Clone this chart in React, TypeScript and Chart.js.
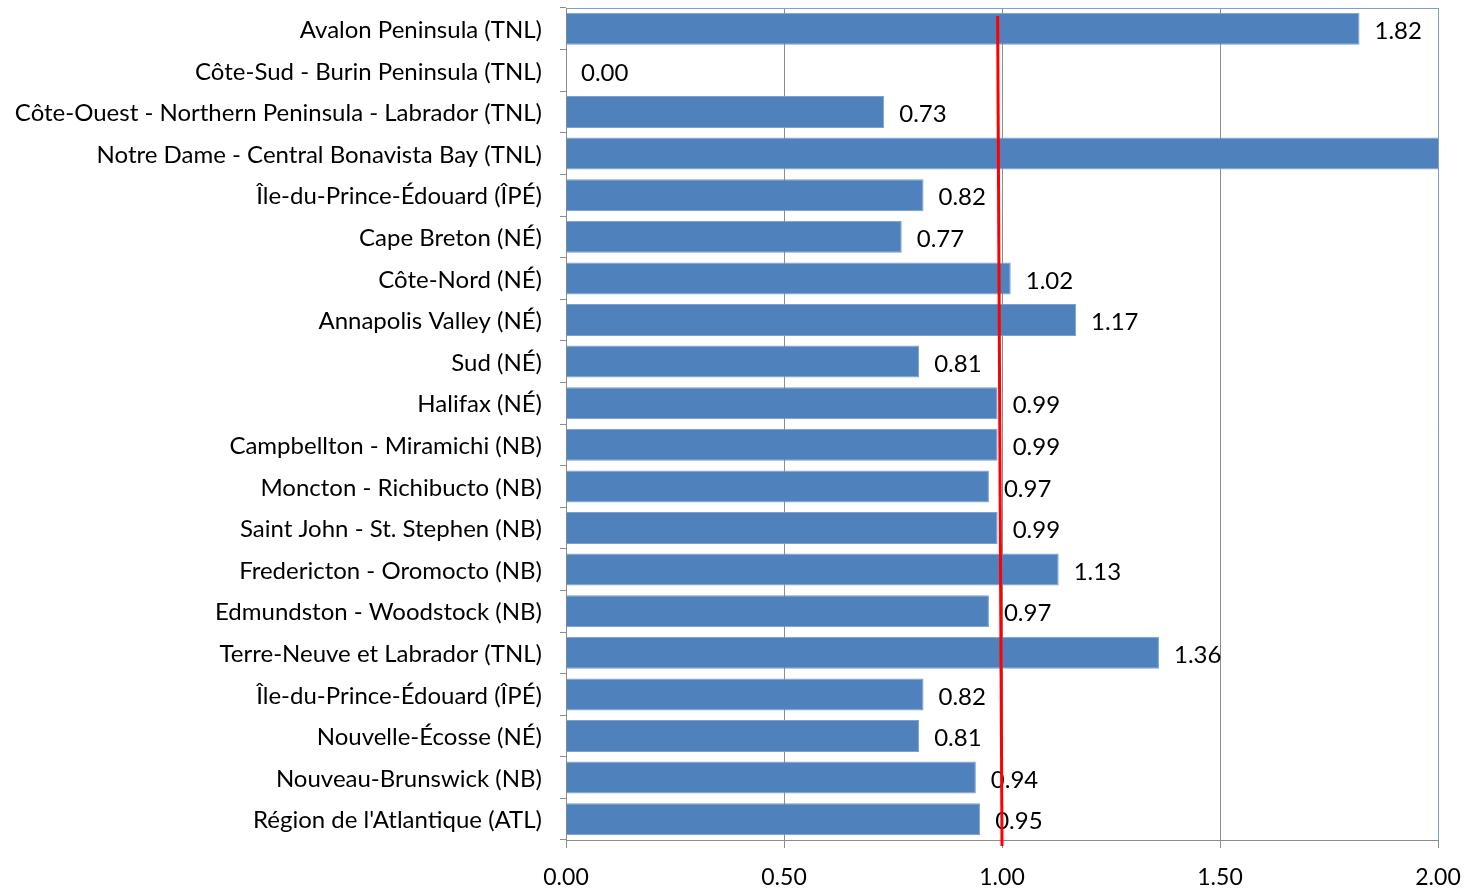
import React, { useEffect, useRef } from "react";
import { Chart, registerables } from "chart.js";

Chart.register(...registerables);

const categories = [
  "Avalon Peninsula (TNL)",
  "Côte-Sud - Burin Peninsula (TNL)",
  "Côte-Ouest - Northern Peninsula - Labrador (TNL)",
  "Notre Dame - Central Bonavista Bay (TNL)",
  "Île-du-Prince-Édouard (ÎPÉ)",
  "Cape Breton (NÉ)",
  "Côte-Nord (NÉ)",
  "Annapolis Valley (NÉ)",
  "Sud (NÉ)",
  "Halifax (NÉ)",
  "Campbellton - Miramichi (NB)",
  "Moncton - Richibucto (NB)",
  "Saint John - St. Stephen (NB)",
  "Fredericton - Oromocto (NB)",
  "Edmundston - Woodstock (NB)",
  "Terre-Neuve et Labrador (TNL)",
  "Île-du-Prince-Édouard (ÎPÉ)",
  "Nouvelle-Écosse (NÉ)",
  "Nouveau-Brunswick (NB)",
  "Région de l'Atlantique (ATL)",
];

const values = [
  1.82, 0.0, 0.73, 2.5, 0.82, 0.77, 1.02, 1.17, 0.81, 0.99, 0.99, 0.97, 0.99,
  1.13, 0.97, 1.36, 0.82, 0.81, 0.94, 0.95,
];

const xTicks = [0, 0.5, 1.0, 1.5, 2.0];
const refLineTop = 0.99;
const refLineBottom = 1.0;

const FONT = "Lato";

const labelPlugin = {
  id: "barLabels",
  afterDatasetsDraw(chart: any) {
    const ctx = chart.ctx;
    const meta = chart.getDatasetMeta(0);
    const area = chart.chartArea;
    ctx.save();
    ctx.font = `24px ${FONT}`;
    ctx.fillStyle = "#000";
    ctx.textAlign = "left";
    ctx.textBaseline = "middle";
    meta.data.forEach((bar: any, i: number) => {
      const x = bar.x + 15;
      if (x > area.right) return;
      ctx.fillText(values[i].toFixed(2), x, bar.y + 2.5);
    });
    ctx.restore();
  },
};

const framePlugin = {
  id: "frameAndRef",
  afterDraw(chart: any) {
    const ctx = chart.ctx;
    const area = chart.chartArea;
    const xs = chart.scales.x;
    ctx.save();
    ctx.strokeStyle = "#7F9FD0";
    ctx.lineWidth = 1;
    ctx.beginPath();
    ctx.moveTo(area.left, area.top + 0.5);
    ctx.lineTo(area.right + 0.5, area.top + 0.5);
    ctx.lineTo(area.right + 0.5, area.bottom);
    ctx.stroke();
    ctx.strokeStyle = "#FF0000";
    ctx.lineWidth = 3;
    ctx.beginPath();
    ctx.moveTo(xs.getPixelForValue(refLineTop), area.top + 8);
    ctx.lineTo(xs.getPixelForValue(refLineBottom), area.bottom + 6);
    ctx.stroke();
    ctx.restore();
  },
};

export default function App() {
  const ref = useRef<HTMLCanvasElement>(null);
  useEffect(() => {
    if (!ref.current) return;
    const chart = new Chart(ref.current, {
      type: "bar",
      data: {
        labels: categories,
        datasets: [
          {
            data: values,
            backgroundColor: "#4F81BD",
            borderColor: "#7B9FD0",
            borderWidth: 1,
            barPercentage: 0.77,
            categoryPercentage: 1,
          },
        ],
      },
      options: {
        indexAxis: "y",
        animation: false,
        responsive: false,
        maintainAspectRatio: false,
        layout: { padding: { top: 8, right: 26, left: 0, bottom: 0 } },
        plugins: { legend: { display: false }, tooltip: { enabled: false } },
        scales: {
          x: {
            min: 0,
            max: 2,
            afterBuildTicks(scale: any) {
              scale.ticks = xTicks.map((v) => ({ value: v }));
            },
            afterFit(scale: any) {
              scale.height = 48;
              scale.paddingLeft = 0;
              scale.paddingRight = 0;
              scale.paddingTop = 0;
              scale.paddingBottom = 0;
            },
            ticks: {
              callback: (v: any) => Number(v).toFixed(2),
              font: { family: FONT, size: 23 },
              color: "#000",
              padding: 16,
              maxRotation: 0,
            },
            grid: { color: "#8C8C8C", lineWidth: 1, tickLength: 8 },
            border: { color: "#8C8C8C" },
          },
          y: {
            afterFit(scale: any) {
              scale.width = 566;
              scale.paddingLeft = 0;
              scale.paddingRight = 0;
              scale.paddingTop = 0;
              scale.paddingBottom = 0;
            },
            ticks: {
              font: { family: FONT, size: 24 },
              color: "#000",
              padding: 18,
              autoSkip: false,
              labelOffset: 1.5,
            },
            grid: {
              drawOnChartArea: false,
              color: "#8C8C8C",
              tickLength: 6,
              offset: true,
            },
            border: { color: "#8C8C8C" },
          },
        },
      },
      plugins: [labelPlugin, framePlugin],
    });
    return () => chart.destroy();
  }, []);
  return (
    <div style={{ position: "fixed", left: 0, top: 0, width: 1464, height: 888, background: "#fff" }}>
      <canvas ref={ref} width={1464} height={888} />
    </div>
  );
}
